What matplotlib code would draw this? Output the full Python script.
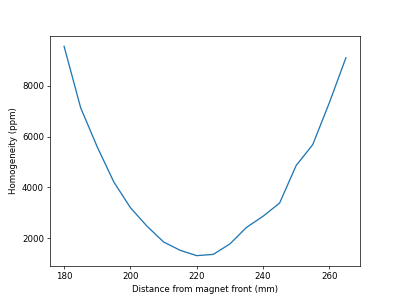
import matplotlib
matplotlib.use("Agg")
import matplotlib.pyplot as plt

# distance from magnet front (mm) and homogeneity (ppm)
distance = [180, 185, 190, 195, 200, 205, 210, 215, 220, 225,
            230, 235, 240, 245, 250, 255, 260, 265]
homogeneity = [9550, 7130, 5590, 4210, 3200, 2470, 1850, 1520, 1310, 1360,
               1770, 2420, 2860, 3380, 4860, 5680, 7330, 9100]

fig = plt.figure(figsize=(6.4, 4.784), dpi=62.5)
plt.plot(distance, homogeneity)
plt.xlabel('Distance from magnet front (mm)')
plt.ylabel('Homogeneity (ppm)')
plt.savefig('out.png', dpi=62.5)
